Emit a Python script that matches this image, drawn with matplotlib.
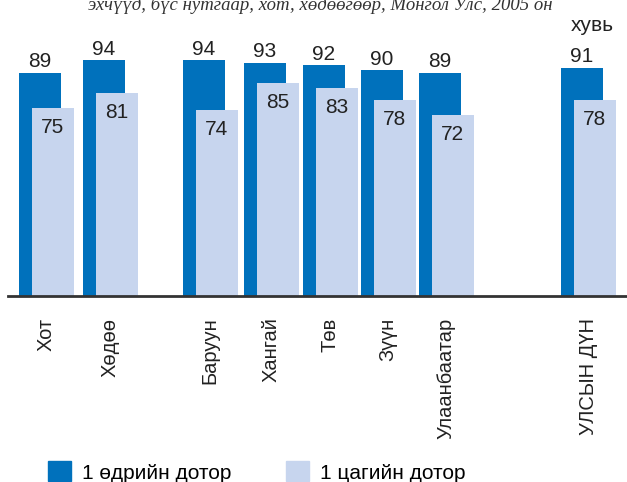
import numpy as np
import matplotlib
matplotlib.use("Agg")
import matplotlib.pyplot as plt
from matplotlib.patches import Patch

plt.rcParams["font.family"] = ["Liberation Sans", "DejaVu Sans"]

# ── Data ──────────────────────────────────────────────────────────────────────
categories = ["Хот", "Хөдөө", "Баруун", "Хангай", "Төв", "Зүүн",
              "Улаанбаатар", "УЛСЫН ДҮН"]
within_day = [89, 94, 94, 93, 92, 90, 89, 91]
within_hour = [75, 81, 74, 85, 83, 78, 72, 78]
series_names = ["1 өдрийн дотор", "1 цагийн дотор"]
title = "эхчүүд, бүс нутгаар, хот, хөдөөгөөр, Монгол Улс, 2005 он"
unit = "хувь"

# ── Layout (x in pixel-like units, left edge of the dark bar) ────────────────
bar_left = np.array([19, 83, 183, 244, 303, 361, 419, 561])
BAR_W = 42
OFFSET = 12.5
DARK = "#0071bc"
LIGHT = "#c7d5ee"

W, H = 627, 482
fig = plt.figure(figsize=(W / 100, H / 100), dpi=100)
ax = fig.add_axes([8 / W, (H - 296) / H, (W - 8) / W, 251 / H])

ax.bar(bar_left, within_day, width=BAR_W, align="edge", color=DARK, zorder=2)
ax.bar(bar_left + OFFSET, within_hour, width=BAR_W, align="edge",
       color=LIGHT, zorder=3)

for x, v in zip(bar_left + BAR_W / 2, within_day):
    ax.annotate(str(v), (x, v), xytext=(0, 4), textcoords="offset points",
                ha="center", va="baseline", fontsize=15, color="#222222",
                annotation_clip=False)
for x, v in zip(bar_left + OFFSET + BAR_W / 2, within_hour):
    ax.annotate(str(v), (x, v), xytext=(0, -18), textcoords="offset points",
                ha="center", va="baseline", fontsize=15, color="#222222",
                zorder=4)

ax.set_xlim(8, W)
ax.set_ylim(0, 100)
for s in ["top", "right", "left"]:
    ax.spines[s].set_visible(False)
ax.spines["bottom"].set_linewidth(2)
ax.spines["bottom"].set_color("#333333")
ax.spines["bottom"].set_zorder(5)
ax.set_yticks([])

label_pos = bar_left + (BAR_W + OFFSET) / 2
ax.set_xticks(label_pos, categories, rotation=90, fontsize=14.5,
              color="#222222")
ax.tick_params(axis="x", length=0, pad=15.5)

fig.text(320 / W, 1 - 9.5 / H, title, ha="center", va="baseline",
         fontsize=13.5, style="italic", color="#333333",
         family=["Liberation Serif", "DejaVu Serif"])
fig.text(592 / W, 1 - 31 / H, unit, ha="center", va="baseline",
         fontsize=15, color="#222222")

handles = [Patch(color=DARK), Patch(color=LIGHT)]
fig.legend(handles, series_names, loc="center left",
           bbox_to_anchor=(48 / W, 1 - 472 / H), ncol=2, frameon=False,
           fontsize=15, handlelength=1.1, handleheight=1.1,
           handletextpad=0.55, columnspacing=2.6, borderpad=0,
           borderaxespad=0)

fig.savefig("out.png", dpi=100)
